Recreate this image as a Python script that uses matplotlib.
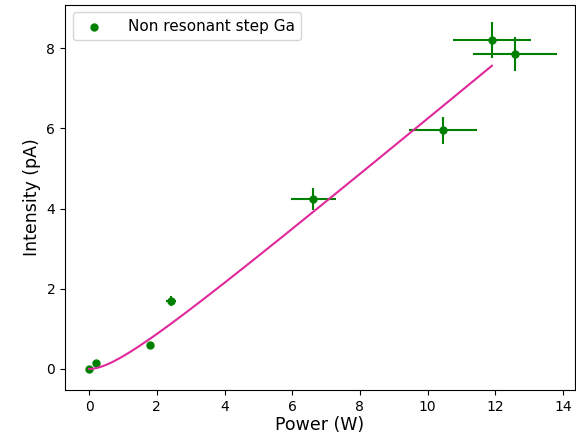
import numpy as np
import matplotlib
matplotlib.use("Agg")
import matplotlib.pyplot as plt

power = [0.0, 0.2, 1.8, 2.42, 6.62, 10.45, 11.9, 12.58]
intensity = [0.0, 0.15, 0.6, 1.7, 4.24, 5.95, 8.2, 7.86]
power_err = [0.02, 0.03, 0.1, 0.15, 0.66, 1.0, 1.15, 1.24]
intensity_err = [0.02, 0.03, 0.05, 0.12, 0.28, 0.33, 0.45, 0.42]

# fit parameters of y = a x^2 / (b + x)
fit_a = 0.70
fit_b = 1.21
fit_xmax = 11.9

fig = plt.figure(figsize=(5.76, 4.4), dpi=100)
ax = fig.add_axes([0.113, 0.114, 0.885, 0.875])

ax.errorbar(power, intensity, xerr=power_err, yerr=intensity_err, fmt='none',
            ecolor='green', elinewidth=1.5, capsize=0, zorder=2)
ax.scatter(power, intensity, color='green', s=25, zorder=2.5,
           label='Non resonant step Ga')
xf = np.linspace(0, fit_xmax, 200)
ax.plot(xf, fit_a * xf**2 / (fit_b + xf), color='#e0289b', lw=1.5, zorder=3)

ax.set_xlim(-0.71, 14.35)
ax.set_ylim(-0.52, 9.08)
ax.set_xticks([0, 2, 4, 6, 8, 10, 12, 14])
ax.set_yticks([0, 2, 4, 6, 8])
ax.tick_params(labelsize=10)
ax.set_xlabel('Power (W)', fontsize=12.5, labelpad=2)
ax.set_ylabel('Intensity (pA)', fontsize=12.5)
ax.legend(loc='upper left', fontsize=11, handletextpad=1.2)

fig.savefig('out.png', dpi=100)
